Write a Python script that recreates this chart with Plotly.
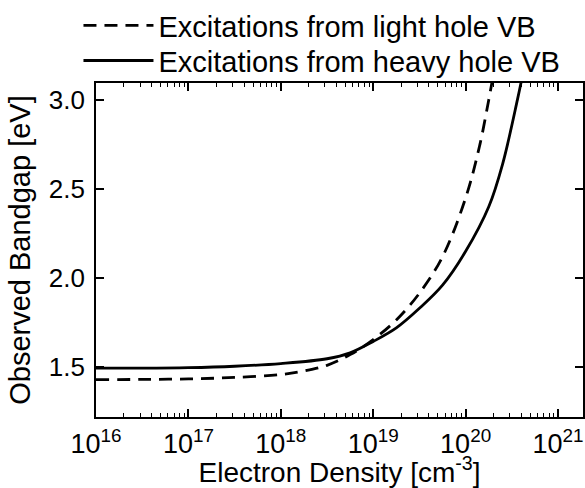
import plotly.graph_objects as go

# Heavy hole VB (solid): log10(electron density) and observed bandgap (eV)
hh_logn = [16, 16.5, 17, 17.5, 18, 18.5, 18.75, 19, 19.25, 19.5, 19.75, 20, 20.25, 20.4, 20.56, 20.62]
hh_gap = [1.494, 1.494, 1.497, 1.505, 1.52, 1.547, 1.58, 1.644, 1.72, 1.83, 1.96, 2.15, 2.40, 2.64, 3.0, 3.15]

# Light hole VB (dashed)
lh_logn = [16, 16.5, 17, 17.5, 18, 18.25, 18.5, 18.75, 19, 19.25, 19.5, 19.75, 20, 20.15, 20.25, 20.32]
lh_gap = [1.43, 1.431, 1.434, 1.442, 1.458, 1.478, 1.51, 1.57, 1.655, 1.765, 1.915, 2.12, 2.45, 2.74, 3.0, 3.2]

x_tick_exp = [16, 17, 18, 19, 20, 21]
y_ticks = [1.5, 2.0, 2.5, 3.0]

FONT = "Liberation Sans, Arial, sans-serif"

fig = go.Figure()
fig.add_trace(go.Scatter(
    x=[10.0 ** v for v in lh_logn], y=lh_gap, mode="lines", line_shape="spline",
    line=dict(color="black", width=2.8, dash="13px,8px"),
    name="Excitations from light hole VB", legend="legend"))
fig.add_trace(go.Scatter(
    x=[10.0 ** v for v in hh_logn], y=hh_gap, mode="lines", line_shape="spline",
    line=dict(color="black", width=2.8),
    name="Excitations from heavy hole VB", legend="legend2"))

legend_common = dict(x=-0.036, xanchor="left", xref="paper", yanchor="top", yref="container",
                     bgcolor="rgba(0,0,0,0)", itemwidth=70, font=dict(size=29))

fig.update_layout(
    width=585, height=488,
    margin=dict(l=96, r=2, t=83, b=71, autoexpand=False),
    paper_bgcolor="white", plot_bgcolor="white",
    font=dict(family=FONT, size=27, color="black"),
    showlegend=True,
    legend=dict(y=1.004, **legend_common),
    legend2=dict(y=0.928, **legend_common),
    xaxis=dict(
        type="log", range=[16, 21.27],
        tickvals=[10.0 ** e for e in x_tick_exp],
        ticktext=["10<sup>%d</sup>" % e for e in x_tick_exp],
        ticks="inside", ticklen=8, tickwidth=1.5, tickcolor="black",
        showline=True, linecolor="black", linewidth=1.6, mirror="allticks",
        showgrid=False, zeroline=False, ticklabelstandoff=2,
        minor=dict(ticks="inside", ticklen=4, tickwidth=1.2, tickcolor="black", dtick="D1", showgrid=False),
        title=dict(text="Electron Density [cm<sup>-3</sup>]", standoff=0, font=dict(size=28)),
        tickfont=dict(size=27),
    ),
    yaxis=dict(
        range=[1.22, 3.095],
        tickvals=y_ticks, ticktext=["%.1f" % v for v in y_ticks],
        ticks="inside", ticklen=8, tickwidth=1.5, tickcolor="black",
        showline=True, linecolor="black", linewidth=1.6, mirror="allticks",
        showgrid=False, zeroline=False, ticklabelstandoff=4,
        title=dict(text="Observed Bandgap [eV]", standoff=10, font=dict(size=29)),
        tickfont=dict(size=26),
    ),
)

fig.write_html("out.html")
